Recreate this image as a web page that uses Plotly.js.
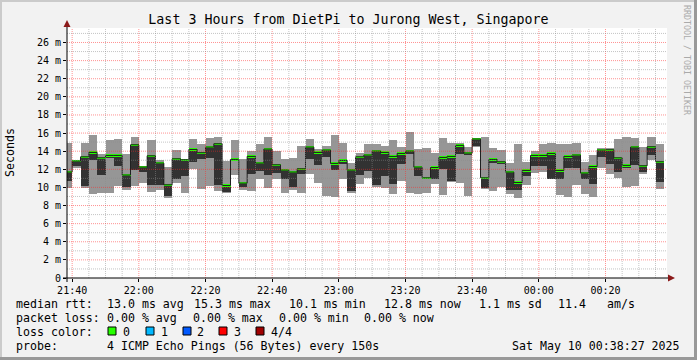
<!DOCTYPE html>
<html><head><meta charset="utf-8">
<script src="https://cdn.plot.ly/plotly-3.0.1.min.js"></script>
<style>html,body{margin:0;padding:0;background:#f2f2f2}#chart{width:697px;height:360px}</style>
</head><body><div id="chart"></div>
<script>
// ---- data (ms), one value per 150 s step, first step ends 21:40:00 ----
const firstStepStart = Date.UTC(2025, 4, 9, 21, 37, 30);
const stepSeconds = 150;
const pingMax = [14.86,13.05,14.86,15.74,13.64,15.23,15.30,13.64,15.60,12.35,15.23,12.98,12.30,14.08,13.16,15.30,14.75,15.49,15.60,12.90,15.23,13.09,14.01,14.75,15.60,14.01,13.09,13.27,14.56,15.30,14.19,14.56,15.74,14.86,12.65,13.83,14.75,14.75,14.56,15.23,14.49,16.11,14.19,14.38,13.83,15.49,14.86,14.86,14.49,15.49,15.60,14.38,14.12,12.65,14.75,12.79,14.01,14.75,14.86,14.75,14.75,14.86,12.79,13.53,14.38,14.38,15.30,15.60,15.49,14.49,15.60,14.75];
const medianRtt = [11.69,12.90,13.38,13.86,13.27,13.53,13.53,11.36,14.71,12.24,13.49,12.68,10.29,13.16,13.05,14.19,13.83,14.45,14.82,10.21,13.09,10.47,13.42,12.68,14.23,12.50,11.91,11.69,12.06,14.45,13.86,14.12,12.65,12.98,11.91,13.38,13.57,14.01,13.86,13.42,13.75,14.01,12.24,11.06,12.20,13.31,13.42,14.64,13.79,15.34,11.06,13.09,12.83,11.69,10.54,11.87,13.53,13.53,13.75,11.87,13.42,13.57,11.58,12.31,14.12,14.16,13.27,12.43,14.45,12.39,14.49,12.83];
const pingLow = [10.69,12.40,10.14,13.01,11.36,13.30,12.35,10.03,11.91,11.69,10.32,10.32,9.03,10.88,11.25,12.79,13.09,13.27,10.32,9.48,12.90,10.07,11.43,11.80,11.32,11.54,10.95,10.07,11.43,13.09,12.46,13.35,11.91,12.61,9.59,11.36,11.80,10.32,11.25,10.43,12.54,13.64,11.25,10.88,10.88,12.06,10.69,13.64,13.57,14.56,9.96,12.72,12.54,9.77,9.77,11.25,12.35,12.35,10.95,10.88,12.17,12.17,10.88,10.43,13.38,12.54,11.69,12.17,12.46,11.69,13.53,10.62];
const pingMin = [9.96,12.10,9.96,9.22,9.33,9.33,10.21,9.77,10.14,10.51,9.48,9.70,8.85,10.51,9.33,11.98,9.84,10.21,9.59,9.40,11.32,9.77,9.59,10.88,9.96,10.88,9.40,9.77,9.33,11.43,10.51,9.03,8.92,10.95,9.40,10.43,11.06,10.07,9.96,9.22,10.69,9.33,9.22,9.40,10.43,9.11,10.60,10.51,9.03,14.50,9.84,9.59,10.07,9.22,8.85,10.32,11.61,11.69,10.90,9.11,8.92,10.32,9.22,8.92,12.17,11.43,11.06,10.03,10.14,11.43,12.98,9.84];
const yTickVals = [0,2,4,6,8,10,12,14,16,18,20,22,24,26];
const yTickText = ['0','2 m','4 m','6 m','8 m','10 m','12 m','14 m','16 m','18 m','20 m','22 m','24 m','26 m'];
const lossColors = ['#26ff00','#00b8ff','#0059ff','#ff0000','#a00000'];
const lossLabels = ['0','1','2','3','4/4'];

const fmt = ms => new Date(ms).toISOString().slice(0,19).replace('T',' ');
const stepMs = stepSeconds*1000;
const centers = pingMax.map((_,i)=>fmt(firstStepStart + i*stepMs + stepMs/2));
const starts = pingMax.map((_,i)=>fmt(firstStepStart + i*stepMs));
starts.push(fmt(firstStepStart + pingMax.length*stepMs));
const medLine = medianRtt.concat([medianRtt[medianRtt.length-1]]);
const greenH = 0.26;

const traces = [
  {type:'bar', x:centers, base:pingMin, y:pingMax.map((v,i)=>v-pingMin[i]), width:stepMs,
   marker:{color:'#969696', line:{width:0}}, hoverinfo:'skip'},
  {type:'bar', x:centers, base:pingLow, y:medianRtt.map((v,i)=>v-pingLow[i]), width:stepMs,
   marker:{color:'#323232', line:{width:0}}, hoverinfo:'skip'},
  {type:'scatter', mode:'lines', x:starts, y:medLine, line:{shape:'hv', color:'#202020', width:1}, hoverinfo:'skip'},
  {type:'bar', x:centers, base:medianRtt.map(v=>v-greenH/2), y:medianRtt.map(()=>greenH), width:stepMs,
   marker:{color:lossColors[0], line:{width:0}}, hoverinfo:'skip'}
];

const xp = px => (px-67)/600;
const yp = py => (278-py)/250;
const shapes = [];
// grid (drawn above data like rrdtool)
const xStart = Date.UTC(2025,4,9,21,38,27), xEnd = Date.UTC(2025,4,10,0,38,27);
for (let t = Date.UTC(2025,4,9,21,40); t < xEnd; t += 300000) {
  const major = (new Date(t).getUTCMinutes() % 20) === 0;
  shapes.push({type:'line', xref:'x', yref:'paper', x0:fmt(t), x1:fmt(t), y0:0, y1:1, layer:'above',
    line:{color: major ? 'rgba(255,40,40,0.5)' : 'rgba(140,140,140,0.5)', width:1, dash:'1px,1px'}});
}
for (let v = 1; v <= 27; v++) {
  const major = v % 2 === 0;
  shapes.push({type:'line', xref:'paper', yref:'y', x0:0, x1:1, y0:v, y1:v, layer:'above',
    line:{color: major ? 'rgba(255,40,40,0.5)' : 'rgba(140,140,140,0.5)', width:1, dash:'1px,1px'}});
}
// axes + arrows
shapes.push({type:'line', xref:'paper', yref:'paper', x0:xp(63), x1:xp(669), y0:0, y1:0, line:{color:'#000', width:1}, layer:'above'});
shapes.push({type:'line', xref:'paper', yref:'paper', x0:0, x1:0, y0:yp(282), y1:yp(26), line:{color:'#000', width:1}, layer:'above'});
shapes.push({type:'path', xref:'paper', yref:'paper', path:`M ${xp(668)},${yp(274.5)} L ${xp(675)},${yp(278)} L ${xp(668)},${yp(281.5)} Z`, fillcolor:'#8b1a1a', line:{width:0}, layer:'above'});
shapes.push({type:'path', xref:'paper', yref:'paper', path:`M ${xp(63.5)},${yp(27)} L ${xp(67)},${yp(20)} L ${xp(70.5)},${yp(27)} Z`, fillcolor:'#8b1a1a', line:{width:0}, layer:'above'});
// outer frame
shapes.push({type:'rect', xref:'paper', yref:'paper', x0:xp(0), x1:xp(697), y0:yp(0), y1:yp(2), fillcolor:'#cbcbcb', line:{width:0}});
shapes.push({type:'rect', xref:'paper', yref:'paper', x0:xp(0), x1:xp(2), y0:yp(0), y1:yp(360), fillcolor:'#cbcbcb', line:{width:0}});
shapes.push({type:'rect', xref:'paper', yref:'paper', x0:xp(694), x1:xp(697), y0:yp(0), y1:yp(360), fillcolor:'#999999', line:{width:0}});
shapes.push({type:'rect', xref:'paper', yref:'paper', x0:xp(0), x1:xp(697), y0:yp(357), y1:yp(360), fillcolor:'#999999', line:{width:0}});
// loss colour boxes
const boxX = [108,146,183,219,256];
const labX = [122,160,196,233,270];
boxX.forEach((bx,i)=>{
  shapes.push({type:'rect', xref:'paper', yref:'paper', x0:xp(bx), x1:xp(bx+8), y0:yp(327), y1:yp(335), fillcolor:lossColors[i], line:{color:'#000', width:1}});
});

const lf = {family:'DejaVu Sans Mono', size:11.6, color:'#000'};
const ann = (x,y,text,extra) => Object.assign({xref:'paper', yref:'paper', x:xp(x), y:yp(y), text, showarrow:false, xanchor:'left', yanchor:'middle', font:lf, borderpad:0}, extra||{});
const annotations = [
  ann(15,304,'median rtt:'), ann(106,304,'13.0 ms avg'), ann(193,304,'15.3 ms max'), ann(288,304,'10.1 ms min'),
  ann(383,304,'12.8 ms now'), ann(478,304,'1.1 ms sd'), ann(557,304,'11.4'), ann(606,304,'am/s'),
  ann(15,318,'packet loss:'), ann(106,318,'0.00 % avg'), ann(192,318,'0.00 % max'), ann(278,318,'0.00 % min'), ann(363,318,'0.00 % now'),
  ann(15,332,'loss color:'),
  ann(15,346,'probe:'), ann(106,346,'4 ICMP Echo Pings (56 Bytes) every 150s'),
  ann(681,346,'Sat May 10 00:38:27 2025',{xanchor:'right'}),
  ann(10,153,'Seconds',{xanchor:'center', textangle:-90}),
  ann(687,60,'RRDTOOL / TOBI OETIKER',{xanchor:'center', textangle:90, font:{family:'DejaVu Sans Mono', size:8.3, color:'#aaaaaa'}})
];
lossLabels.forEach((t,i)=>annotations.push(ann(labX[i],332,t)));

const layout = {
  width:697, height:360,
  margin:{l:67, r:30, t:28, b:82, pad:0},
  paper_bgcolor:'#f2f2f2', plot_bgcolor:'#ffffff',
  showlegend:false, barmode:'overlay', bargap:0,
  font:{family:'DejaVu Sans Mono', color:'#000'},
  title:{text:'Last 3 Hours from DietPi to Jurong West, Singapore', font:{family:'DejaVu Sans Mono', size:13.3, color:'#000'},
    x:0.5, xref:'container', xanchor:'center', y:1-19/360, yref:'container', yanchor:'middle'},
  xaxis:{type:'date', range:[fmt(xStart), fmt(xEnd)], tick0:fmt(Date.UTC(2025,4,9,21,40)), dtick:1200000,
    tickformat:'%H:%M', showgrid:false, zeroline:false, showline:false, ticks:'outside', ticklen:3, tickcolor:'#000',
    tickfont:{size:10, family:'DejaVu Sans Mono'}, fixedrange:true},
  yaxis:{range:[0,27.6], tickvals:yTickVals, ticktext:yTickText, showgrid:false, zeroline:false, showline:false,
    ticks:'outside', ticklen:3, tickcolor:'#000', tickfont:{size:10, family:'DejaVu Sans Mono'}, fixedrange:true},
  shapes, annotations
};
Plotly.newPlot('chart', traces, layout, {staticPlot:true, displayModeBar:false});
</script></body></html>
